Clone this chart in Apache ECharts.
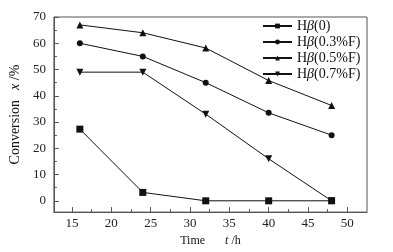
<!DOCTYPE html>
<html><head><meta charset="utf-8">
<script src="https://cdn.jsdelivr.net/npm/echarts@6/dist/echarts.min.js"></script>
<style>html,body{margin:0;padding:0;background:#fff}#c{width:393px;height:252px}</style>
</head><body><div id="c"></div>
<script>
const times = [16, 24, 32, 40, 48];
const seriesNames = ['0', '0.3%F', '0.5%F', '0.7%F'];
const h0 = [27.3, 3.2, 0, 0, 0];
const h03 = [60, 55, 45, 33.5, 25];
const h05 = [67, 64, 58.2, 45.8, 36.3];
const h07 = [49, 49, 33, 16, 0];
const xMajor = [15, 20, 25, 30, 35, 40, 45, 50];
const xMinor = [17.5, 22.5, 27.5, 32.5, 37.5, 42.5, 47.5];
const yMajor = [0, 10, 20, 30, 40, 50, 60, 70];
const yMinor = [5, 15, 25, 35, 45, 55, 65];

const font = 'Liberation Serif';
const axisColor = '#555';
const chart = echarts.init(document.getElementById('c'));
const pair = (arr) => times.map((t, i) => [t, arr[i]]);
const symbols = [
  {symbol: 'rect', size: 7, rot: 0},
  {symbol: 'circle', size: 6, rot: 0},
  {symbol: 'triangle', size: 7, rot: 0},
  {symbol: 'triangle', size: 7, rot: 180}
];
const data = [h0, h03, h05, h07];
const names = seriesNames.map(s => 'H\u03b2(' + s + ')');

chart.setOption({
  animation: false,
  backgroundColor: '#fff',
  grid: {left: 52, right: 26, top: 17, bottom: 30, show: true, borderColor: axisColor, borderWidth: 1},
  legend: {
    left: 262, top: 19, padding: 0, orient: 'vertical', itemWidth: 29, itemHeight: 6, itemGap: 2,
    data: names,
    formatter: (n) => '{a|H}{b|\u03b2}{a|' + n.slice(2) + '}',
    textStyle: {fontFamily: font, fontSize: 14, color: '#111', padding: [0, 0, 0, 0],
      rich: {a: {fontFamily: font, fontSize: 14, color: '#111', height: 14.5}, b: {fontFamily: font, fontSize: 14, fontStyle: 'italic', color: '#111', height: 14.5}}}
  },
  xAxis: [{
    type: 'value', min: 12.7, max: 52.5, position: 'bottom',
    name: '{a|Time}      {b|t}{a| /h}', nameLocation: 'middle', nameGap: 20,
    nameTextStyle: {rich: {a: {fontFamily: font, fontSize: 12, color: '#111'}, b: {fontFamily: font, fontSize: 12, fontStyle: 'italic', color: '#111'}}},
    axisLine: {show: true, onZero: false, lineStyle: {color: axisColor}},
    axisTick: {show: true, inside: true, length: 5, customValues: xMajor, lineStyle: {color: axisColor}},
    axisLabel: {customValues: xMajor, fontFamily: font, fontSize: 13, color: '#222', margin: 5},
    splitLine: {show: false}
  }, {
    type: 'value', min: 12.7, max: 52.5, position: 'bottom', gridIndex: 0,
    axisLine: {show: false, onZero: false},
    axisTick: {show: true, inside: true, length: 3, customValues: xMinor, lineStyle: {color: axisColor}},
    axisLabel: {show: false},
    splitLine: {show: false}
  }],
  yAxis: [{
    type: 'value', min: -4.3, max: 70, position: 'left',
    name: '{a|Conversion}   {b|x}{a| /%}', nameLocation: 'middle', nameGap: 23, nameRotate: 90,
    nameTextStyle: {rich: {a: {fontFamily: font, fontSize: 14, color: '#111'}, b: {fontFamily: font, fontSize: 14, fontStyle: 'italic', color: '#111'}}},
    axisLine: {show: true, onZero: false, lineStyle: {color: axisColor}},
    axisTick: {show: true, inside: true, length: 5, customValues: yMajor, lineStyle: {color: axisColor}},
    axisLabel: {customValues: yMajor, fontFamily: font, fontSize: 13, color: '#222', margin: 8},
    splitLine: {show: false}
  }, {
    type: 'value', min: -4.3, max: 70, position: 'left',
    axisLine: {show: false, onZero: false},
    axisTick: {show: true, inside: true, length: 3, customValues: yMinor, lineStyle: {color: axisColor}},
    axisLabel: {show: false},
    splitLine: {show: false}
  }],
  series: data.map((d, i) => ({
    type: 'line', name: names[i], data: pair(d),
    symbol: symbols[i].symbol, symbolSize: symbols[i].size, symbolRotate: symbols[i].rot,
    showAllSymbol: true,
    lineStyle: {color: '#111', width: 1},
    itemStyle: {color: '#111'},
    xAxisIndex: 0, yAxisIndex: 0
  }))
});
</script></body></html>
